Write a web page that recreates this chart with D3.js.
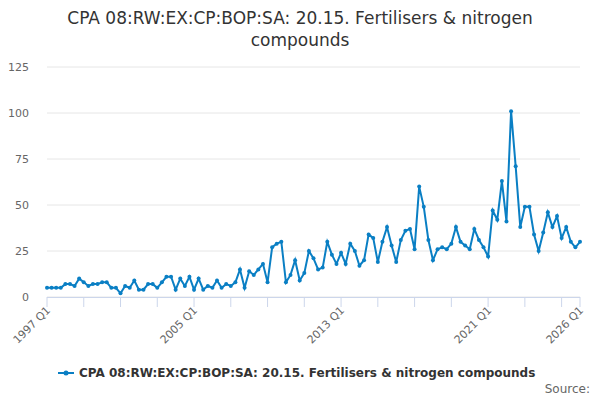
<!DOCTYPE html>
<html><head><meta charset="utf-8">
<script src="https://cdn.jsdelivr.net/npm/d3@7.9.0/dist/d3.min.js"></script>
<style>body{margin:0;font-family:"DejaVu Sans",sans-serif;} text{font-family:"DejaVu Sans",sans-serif;}</style>
</head><body><svg width="600" height="400"></svg>
<script>
// quarterly values, 1997 Q1 .. 2026 Q1
const values = [
  5,5,5,5, 7,7,6,10, 8,6,7,7, 8,8,5,5, 2,6,5,9, 4,4,7,7, 5,8,11,11, 4,10,6,11,
  4,10,4,6, 5,9,5,7, 6,8,15,5, 14,12,15,18, 8,27,29,30, 8,12,20,9, 13,25,21,15, 16,30,23,18,
  24,18,29,25, 17,20,34,32, 19,30,38,28, 19,31,36,37, 26,60,49,31, 20,26,27,26, 29,38,30,28, 26,37,31,27,
  22,47,42,63, 41,101,71,38, 49,49,34,25, 35,46,38,44, 32,38,30,27, 30
];
const startYear = 1997;
const yTicks = [0, 25, 50, 75, 100, 125];
const labelYears = [1997, 2005, 2013, 2021, 2026];
const seriesName = "CPA 08:RW:EX:CP:BOP:SA: 20.15. Fertilisers & nitrogen compounds";

const svg = d3.select("svg");
const color = "#0a7fc4";
const x = d3.scaleLinear().domain([0, values.length - 1]).range([47, 580]);
const y = d3.scaleLinear().domain([0, 125]).range([297, 67]);

svg.append("text").attr("x", 300).attr("y", 24).attr("text-anchor", "middle")
  .attr("font-size", 17).attr("fill", "#333").text("CPA 08:RW:EX:CP:BOP:SA: 20.15. Fertilisers & nitrogen");
svg.append("text").attr("x", 300).attr("y", 46).attr("text-anchor", "middle")
  .attr("font-size", 17).attr("fill", "#333").text("compounds");

// grid + y labels
yTicks.forEach(t => {
  svg.append("line").attr("x1", 47).attr("x2", 580).attr("y1", y(t)).attr("y2", y(t))
    .attr("stroke", "#e6e6e6");
  svg.append("text").attr("x", 29).attr("y", y(t) + 4).attr("text-anchor", "end")
    .attr("font-size", 11).attr("fill", "#666").text(t);
});

// x axis
svg.append("line").attr("x1", 47).attr("x2", 580).attr("y1", 297.5).attr("y2", 297.5).attr("stroke", "#ccd6eb");
for (let yr = startYear; yr <= 2026; yr += 2) {
  const xi = x((yr - startYear) * 4);
  svg.append("line").attr("x1", xi).attr("x2", xi).attr("y1", 297).attr("y2", 307).attr("stroke", "#ccd6eb");
}
svg.append("line").attr("x1", x(values.length - 1)).attr("x2", x(values.length - 1)).attr("y1", 297).attr("y2", 307).attr("stroke", "#ccd6eb");
labelYears.forEach(yr => {
  const xi = x((yr - startYear) * 4);
  svg.append("text").attr("transform", `translate(${xi + 4},${311}) rotate(-45)`)
    .attr("text-anchor", "end").attr("font-size", 11).attr("fill", "#666").text(yr + " Q1");
});

const line = d3.line().x((d, i) => x(i)).y(d => y(d));
svg.append("path").datum(values).attr("d", line).attr("fill", "none")
  .attr("stroke", color).attr("stroke-width", 2);
svg.selectAll("circle.p").data(values).enter().append("circle")
  .attr("cx", (d, i) => x(i)).attr("cy", d => y(d)).attr("r", 2).attr("fill", color);

// legend
const lg = svg.append("g").attr("transform", "translate(58,373)");
lg.append("line").attr("x1", 0).attr("x2", 16).attr("stroke", color).attr("stroke-width", 2);
lg.append("circle").attr("cx", 8).attr("r", 2.5).attr("fill", color);
lg.append("text").attr("x", 21).attr("y", 4).attr("font-size", 12).attr("font-weight", "bold")
  .attr("fill", "#333").text(seriesName);
svg.append("text").attr("x", 590).attr("y", 393).attr("text-anchor", "end")
  .attr("font-size", 12).attr("fill", "#666").text("Source:");
</script></body></html>
